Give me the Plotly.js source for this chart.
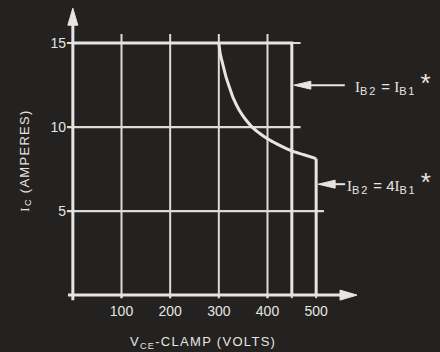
<!DOCTYPE html>
<html>
<head>
<meta charset="utf-8">
<script src="https://cdn.plot.ly/plotly-3.0.1.min.js"></script>
<style>html,body{margin:0;padding:0;background:#242221;}</style>
</head>
<body>
<div id="chart" style="width:440px;height:352px;"></div>
<script>
// ---- data ----
const xTickVals = [100, 200, 300, 400, 500];
const xTickText = ['100', '200', '300', '400', '500'];
const yTickVals = [5, 10, 15];
const yTickText = ['5', '10', '15'];
const vGridVals = [100, 200, 300, 400];
const hGridVals = [5, 10, 15];
const hGridEnds = [516, 468, 468];
const stubVals = [100, 200, 300, 400, 450, 500];

// I_B2 = I_B1 limit
const limitAX = [0, 450, 450];
const limitAY = [15, 15, 0];
// I_B2 = 4 I_B1 limit (curve then vertical drop)
const curveX = [300, 303, 308, 315, 322, 330, 342, 355, 370, 385, 400, 420, 440, 452, 475, 500];
const curveY = [15, 14.35, 13.75, 12.95, 12.35, 11.7, 11.0, 10.45, 9.95, 9.6, 9.3, 8.98, 8.7, 8.55, 8.35, 8.12];
const dropX = [500, 500];
const dropY = [8.12, 0];

const labelA_Y = 12.49;
const labelB_Y = 6.6;

const serifI = '<span style="font-family:Liberation Serif">I</span>';
const subSpan = s => '<span style="font-size:15.7px;letter-spacing:1.8px"><sub>' + s + '</sub></span>';
const star = '<span style="font-size:26px">*</span>';
const labelA = serifI + subSpan('B2') + ' = ' + serifI + subSpan('B1') + ' ' + star;
const labelB = serifI + subSpan('B2') + ' = 4' + serifI + subSpan('B1') + ' ' + star;
const xTitle = '<span style="letter-spacing:1.3px">V<sub>CE</sub>-CLAMP (VOLTS)</span>';
const yTitle = '<span style="letter-spacing:1.3px"><span style="font-family:Liberation Serif">I</span><sub>C</sub> (AMPERES)</span>';

// ---- styling ----
const INK = '#e6e5e1';
const GRID = '#dcdbd7';
const BG = '#242221';
const FONT = 'Liberation Sans, Arial, sans-serif';

const shapes = [];
vGridVals.forEach(v => shapes.push({type: 'line', xref: 'x', yref: 'y', x0: v, x1: v, y0: -0.18, y1: 15.53, line: {color: GRID, width: 2}, layer: 'below'}));
hGridVals.forEach((v, i) => shapes.push({type: 'line', xref: 'x', yref: 'y', x0: -12, x1: hGridEnds[i], y0: v, y1: v, line: {color: GRID, width: 2.2}, layer: 'below'}));
stubVals.forEach(v => shapes.push({type: 'line', xref: 'x', yref: 'y', x0: v, x1: v, y0: -0.18, y1: 0, line: {color: GRID, width: 2}, layer: 'below'}));
// axes
shapes.push({type: 'line', xref: 'x', yref: 'y', x0: 0, x1: 0, y0: -0.3, y1: 16.3, line: {color: INK, width: 3}});
shapes.push({type: 'line', xref: 'x', yref: 'y', x0: -10, x1: 555, y0: 0, y1: 0, line: {color: INK, width: 3}});
shapes.push({type: 'path', xref: 'x', yref: 'y', xsizemode: 'pixel', ysizemode: 'pixel', xanchor: 0, yanchor: 17.07,
  path: 'M -5,-17 L 0,0 L 5,-17 Z', fillcolor: INK, line: {color: INK, width: 1}});
shapes.push({type: 'path', xref: 'x', yref: 'y', xsizemode: 'pixel', ysizemode: 'pixel', xanchor: 584, yanchor: 0,
  path: 'M -17,5 L 0,0 L -17,-5 Z', fillcolor: INK, line: {color: INK, width: 1}});
// label arrows
shapes.push({type: 'path', xref: 'x', yref: 'y', xsizemode: 'pixel', ysizemode: 'pixel', xanchor: 450, yanchor: labelA_Y,
  path: 'M 2,0 L 19,4 L 19,-4 Z', fillcolor: INK, line: {color: INK, width: 1}});
shapes.push({type: 'path', xref: 'x', yref: 'y', xsizemode: 'pixel', ysizemode: 'pixel', xanchor: 450, yanchor: labelA_Y,
  path: 'M 18,0 L 53,0', line: {color: INK, width: 2}});
shapes.push({type: 'path', xref: 'x', yref: 'y', xsizemode: 'pixel', ysizemode: 'pixel', xanchor: 500, yanchor: labelB_Y,
  path: 'M 2,0 L 19,4 L 19,-4 Z', fillcolor: INK, line: {color: INK, width: 1}});
shapes.push({type: 'path', xref: 'x', yref: 'y', xsizemode: 'pixel', ysizemode: 'pixel', xanchor: 500, yanchor: labelB_Y,
  path: 'M 18,0 L 29,0', line: {color: INK, width: 2}});

const traces = [
  {x: limitAX, y: limitAY, mode: 'lines', line: {color: INK, width: 3}, name: 'IB2 = IB1', hoverinfo: 'skip'},
  {x: curveX, y: curveY, mode: 'lines', line: {color: INK, width: 3, shape: 'spline', smoothing: 0.6}, name: 'IB2 = 4IB1', hoverinfo: 'skip'},
  {x: dropX, y: dropY, mode: 'lines', line: {color: INK, width: 3}, name: 'IB2 = 4IB1 drop', hoverinfo: 'skip'}
];

const annotations = [
  {xref: 'x', yref: 'y', x: 450, y: labelA_Y, text: labelA, showarrow: false, xanchor: 'left', yanchor: 'middle', xshift: 61, yshift: 2,
   font: {family: FONT, size: 15, color: INK}},
  {xref: 'x', yref: 'y', x: 500, y: labelB_Y, text: labelB, showarrow: false, xanchor: 'left', yanchor: 'middle', xshift: 29, yshift: 2,
   font: {family: FONT, size: 15, color: INK}},
  {xref: 'paper', yref: 'paper', x: 0.4674, y: -0.14, text: xTitle, showarrow: false, xanchor: 'center', yanchor: 'middle',
   font: {family: FONT, size: 13, color: INK}},
  {xref: 'paper', yref: 'paper', x: -0.142, y: 0.4746, text: yTitle, showarrow: false, xanchor: 'center', yanchor: 'middle', textangle: -90,
   font: {family: FONT, size: 13, color: INK}}
];

const layout = {
  width: 440, height: 352,
  margin: {l: 67, r: 82, t: 6, b: 51, pad: 0},
  paper_bgcolor: BG, plot_bgcolor: BG,
  showlegend: false,
  xaxis: {range: [-12, 586], tickvals: xTickVals, ticktext: xTickText, showgrid: false, zeroline: false, showline: false, ticks: '',
          tickfont: {family: FONT, size: 14, color: INK}, fixedrange: true},
  yaxis: {range: [-0.35, 17.2], tickvals: yTickVals, ticktext: yTickText, showgrid: false, zeroline: false, showline: false, ticks: '',
          tickfont: {family: FONT, size: 14, color: INK}, fixedrange: true},
  shapes: shapes,
  annotations: annotations
};

Plotly.newPlot('chart', traces, layout, {displayModeBar: false, staticPlot: true});
</script>
</body>
</html>
